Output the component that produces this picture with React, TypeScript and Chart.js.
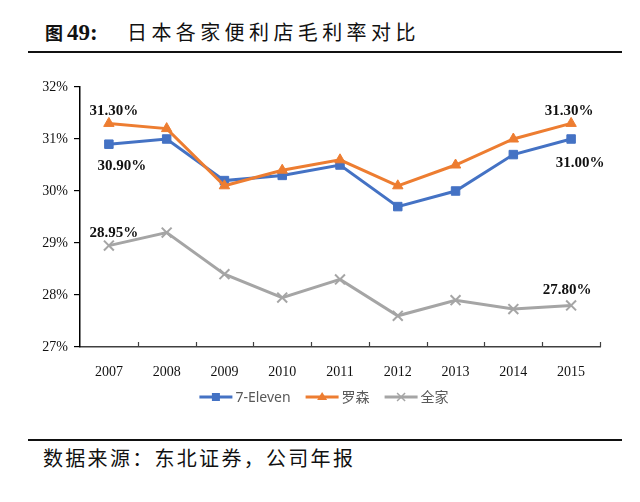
import React, { useEffect, useRef } from "react";
import { Chart, registerables } from "chart.js";

Chart.register(...registerables);

const categories = ["2007", "2008", "2009", "2010", "2011", "2012", "2013", "2014", "2015"];
const sevenEleven = [30.9, 31.0, 30.2, 30.3, 30.5, 29.7, 30.0, 30.7, 31.0];
const lawson = [31.3, 31.2, 30.1, 30.4, 30.6, 30.1, 30.5, 31.0, 31.3];
const familyMart = [28.95, 29.2, 28.4, 27.95, 28.3, 27.6, 27.9, 27.73, 27.8];
const seriesNames = ["7-Eleven", "罗森", "全家"];
const yMin = 27;
const yMax = 32;
const yStep = 1;

const BLUE = "#4472C4";
const ORANGE = "#ED7D31";
const GRAY = "#A5A5A5";

// which points get a value label, with offset from the point
const labelSpecs = [
  { ds: 1, idx: 0, dx: 5, dy: -12 },
  { ds: 0, idx: 0, dx: 13, dy: 22 },
  { ds: 2, idx: 0, dx: 5, dy: -12 },
  { ds: 1, idx: 8, dx: -2, dy: -12 },
  { ds: 0, idx: 8, dx: 9, dy: 24 },
  { ds: 2, idx: 8, dx: -4, dy: -15 },
];

const innerTicksPlugin = {
  id: "innerTicks",
  afterDraw(chart: any) {
    const xs = chart.scales.x;
    const ctx = chart.ctx;
    const n = chart.data.labels.length;
    const step = (xs.right - xs.left) / n;
    ctx.save();
    ctx.strokeStyle = "#404040";
    ctx.lineWidth = 1.2;
    for (let i = 1; i <= n; i++) {
      const x = Math.round(xs.left + i * step) + 0.5;
      ctx.beginPath();
      ctx.moveTo(x, xs.top);
      ctx.lineTo(x, xs.top - 5);
      ctx.stroke();
    }
    ctx.restore();
  },
};

const valueLabelsPlugin = {
  id: "valueLabels",
  afterDatasetsDraw(chart: any) {
    const ctx = chart.ctx;
    ctx.save();
    ctx.font = "bold 15px 'Liberation Serif', 'Times New Roman', serif";
    ctx.fillStyle = "#111";
    ctx.textAlign = "center";
    ctx.textBaseline = "middle";
    for (const s of labelSpecs) {
      const meta = chart.getDatasetMeta(s.ds);
      const pt = meta.data[s.idx];
      const v = chart.data.datasets[s.ds].data[s.idx] as number;
      ctx.fillText(v.toFixed(2) + "%", pt.x + s.dx, pt.y + s.dy);
    }
    ctx.restore();
  },
};

const legendPlugin = {
  id: "customLegend",
  afterDraw(chart: any) {
    const ctx = chart.ctx;
    const y = 327;
    const lineLen = 33;
    ctx.save();
    ctx.font = "14px 'Noto Sans', 'Noto Sans CJK SC', sans-serif";
    ctx.textBaseline = "middle";
    const items = chart.data.datasets.map((d: any) => ({
      label: d.label,
      color: d.borderColor,
      style: d.pointStyle,
      w: ctx.measureText(d.label).width,
    }));
    const gap = 15;
    const total = items.reduce((a: number, it: any) => a + lineLen + 3 + it.w, 0) + gap * (items.length - 1);
    let x = chart.width / 2 + 4 - total / 2;
    for (const it of items) {
      ctx.strokeStyle = it.color;
      ctx.lineWidth = 3;
      ctx.beginPath();
      ctx.moveTo(x, y);
      ctx.lineTo(x + lineLen, y);
      ctx.stroke();
      const cx = x + lineLen / 2;
      ctx.fillStyle = it.color;
      ctx.strokeStyle = it.color;
      if (it.style === "rect") {
        ctx.fillRect(cx - 4, y - 4, 8, 8);
      } else if (it.style === "triangle") {
        ctx.beginPath();
        ctx.moveTo(cx, y - 5);
        ctx.lineTo(cx + 5, y + 3);
        ctx.lineTo(cx - 5, y + 3);
        ctx.closePath();
        ctx.fill();
      } else {
        ctx.lineWidth = 1.5;
        ctx.beginPath();
        ctx.moveTo(cx - 4, y - 4);
        ctx.lineTo(cx + 4, y + 4);
        ctx.moveTo(cx + 4, y - 4);
        ctx.lineTo(cx - 4, y + 4);
        ctx.stroke();
      }
      ctx.fillStyle = "#595959";
      ctx.fillText(it.label, x + lineLen + 3, y + 1);
      x += lineLen + 3 + it.w + gap;
    }
    ctx.restore();
  },
};

export default function App() {
  const canvasRef = useRef<HTMLCanvasElement | null>(null);

  useEffect(() => {
    if (!canvasRef.current) return;
    const chart = new Chart(canvasRef.current, {
      type: "line",
      data: {
        labels: categories,
        datasets: [
          {
            label: seriesNames[0],
            data: sevenEleven,
            borderColor: BLUE,
            backgroundColor: BLUE,
            borderWidth: 3,
            pointStyle: "rect",
            pointRadius: 6,
            pointBorderWidth: 1,
            order: 2,
          },
          {
            label: seriesNames[1],
            data: lawson,
            borderColor: ORANGE,
            backgroundColor: ORANGE,
            borderWidth: 3,
            pointStyle: "triangle",
            pointRadius: 6,
            pointBorderWidth: 1,
            order: 1,
          },
          {
            label: seriesNames[2],
            data: familyMart,
            borderColor: GRAY,
            backgroundColor: GRAY,
            borderWidth: 3,
            pointStyle: "crossRot",
            pointRadius: 7,
            pointBorderWidth: 2,
            order: 3,
          },
        ],
      },
      options: {
        responsive: false,
        animation: false,
        devicePixelRatio: 1,
        layout: { padding: { top: 17, right: 40, bottom: 33, left: 0 } },
        plugins: {
          legend: { display: false },
          tooltip: { enabled: false },
          title: { display: false },
        },
        scales: {
          x: {
            offset: true,
            grid: { display: false },
            border: { display: true, color: "#404040", width: 1.5 },
            ticks: {
              color: "#111",
              padding: 9,
              font: { family: "'Liberation Serif', 'Times New Roman', serif", size: 14 },
            },
            afterFit(scale: any) {
              scale.height = 30;
            },
          },
          y: {
            min: yMin,
            max: yMax,
            grid: {
              display: true,
              drawOnChartArea: false,
              drawTicks: true,
              tickLength: 6,
              color: "#000",
              lineWidth: 1.2,
            },
            border: { display: true, color: "#000", width: 1.5 },
            ticks: {
              stepSize: yStep,
              color: "#111",
              padding: 6,
              font: { family: "'Liberation Serif', 'Times New Roman', serif", size: 14 },
              callback: (v: any) => `${v}%`,
            },
            afterFit(scale: any) {
              scale.width = 80;
            },
          },
        },
      },
      plugins: [innerTicksPlugin, valueLabelsPlugin, legendPlugin],
    });
    return () => chart.destroy();
  }, []);

  return (
    <div
      style={{
        position: "fixed",
        left: 0,
        top: 0,
        width: 640,
        height: 502,
        background: "#fff",
        overflow: "hidden",
      }}
    >
      <div
        style={{
          position: "absolute",
          left: 45,
          top: 18,
          height: 28,
          lineHeight: "28px",
          whiteSpace: "nowrap",
          color: "#111",
        }}
      >
        <span style={{ fontFamily: "'Noto Sans CJK SC', sans-serif", fontWeight: 700, fontSize: 18 }}>图</span>
        <span style={{ fontFamily: "'Liberation Serif', serif", fontWeight: 700, fontSize: 23, marginLeft: 4 }}>49:</span>
      </div>
      <div
        style={{
          position: "absolute",
          left: 127,
          top: 18,
          height: 28,
          lineHeight: "28px",
          whiteSpace: "nowrap",
          fontFamily: "'Noto Sans CJK SC', sans-serif",
          fontSize: 20,
          letterSpacing: 4.4,
          color: "#111",
        }}
      >
        日本各家便利店毛利率对比
      </div>
      <div style={{ position: "absolute", left: 28, top: 51, width: 594, height: 2, background: "#111" }} />
      <canvas
        ref={canvasRef}
        width={640}
        height={340}
        style={{ position: "absolute", left: 0, top: 70, width: 640, height: 340 }}
      />
      <div style={{ position: "absolute", left: 28, top: 439, width: 594, height: 2, background: "#111" }} />
      <div
        style={{
          position: "absolute",
          left: 43,
          top: 444,
          height: 28,
          lineHeight: "28px",
          whiteSpace: "nowrap",
          fontFamily: "'Noto Sans CJK SC', sans-serif",
          fontSize: 20,
          letterSpacing: 2.3,
          color: "#111",
        }}
      >
        数据来源：东北证券，公司年报
      </div>
    </div>
  );
}
